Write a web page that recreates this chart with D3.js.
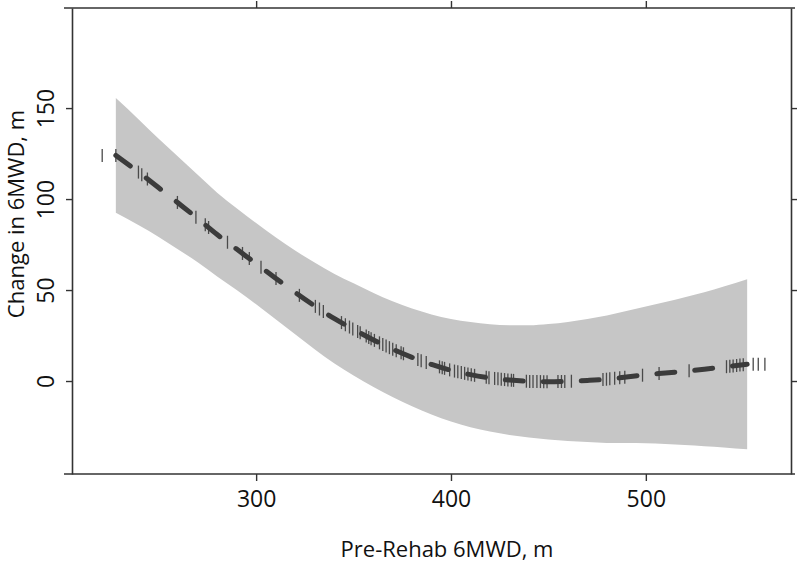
<!DOCTYPE html>
<html>
<head>
<meta charset="utf-8">
<script src="https://cdn.jsdelivr.net/npm/d3@7"></script>
<style>
  html, body { margin: 0; padding: 0; background: #fff; }
  svg { display: block; }
  text { font-family: "Open Sans", "Liberation Sans", sans-serif; fill: #111; }
</style>
</head>
<body>
<svg id="chart" width="800" height="563"></svg>
<script>
// ---- data ----
const fitX = [228, 240, 250, 260, 270, 280, 290, 300, 310, 320, 330, 340, 350, 360, 370, 380, 390, 400, 410, 420, 430, 440, 450, 460, 470, 480, 490, 500, 510, 520, 530, 540, 552];
const fitY = [124, 114.5, 106.2, 97.8, 89.3, 80.5, 72.5, 64.5, 56.5, 48.7, 41.3, 34.4, 28.4, 22.7, 17.5, 13, 9.1, 5.9, 3.5, 1.7, 0.5, -0.2, -0.4, -0.2, 0.3, 1, 2.2, 3.4, 4.4, 5.4, 6.5, 7.7, 9.2];
const ciLo = [92.5, 85.5, 79.2, 72.3, 65.3, 57.5, 50, 42.2, 34, 25.7, 17.5, 9.8, 3.1, -3.1, -8.8, -13.8, -18.4, -22.3, -25.4, -27.8, -29.6, -31, -32.1, -32.9, -33.5, -34, -34.1, -34.2, -34.6, -35.2, -35.8, -36.5, -37.5];
const ciHi = [155.5, 143.5, 133.2, 123.3, 113.3, 103.5, 95, 86.8, 79, 71.7, 65.1, 59, 53.7, 48.5, 43.8, 39.8, 36.6, 34.1, 32.4, 31.2, 30.6, 30.6, 31.3, 32.5, 34.1, 36, 38.5, 41, 43.4, 46, 48.8, 51.9, 55.9];
// observed pre-rehab 6MWD values (rug marks drawn on the fitted curve)
const rugX = [221, 228, 239.6, 241.3, 244.2, 259.6, 269.1, 273.9, 275.6, 285.3, 293, 296.5, 302.5, 310.2, 322.2, 330.4, 332.5, 334.5,
  343.8, 345.8, 347.9, 349.6, 352.1, 353.4, 356.5, 357.8, 359, 360.7, 363.3, 365, 366.7, 368.4, 370.1, 371.9, 374.4, 375.6,
  383, 384.7, 387.3, 394.1, 395.5, 396.7, 399.3, 401.8, 403.5, 405.3, 407, 408.7, 410.4, 412.1, 418.1, 419.5,
  422.4, 424.1, 425.8, 427.5, 429.2, 431, 432.1, 438.7, 440.4, 442.1, 444.1, 445.9, 447.6, 449.3, 454.9, 456.7, 458.4, 461.8,
  478, 479.8, 481.5, 484, 486.6, 489.2, 498.3, 506.8, 522.2, 541.4, 543.1, 544.8, 546.6, 548.3, 550, 555.1, 557.7, 561.1];
const xTicks = [300, 400, 500];
const yTicks = [0, 50, 100, 150];
const xLabel = "Pre-Rehab 6MWD, m";
const yLabel = "Change in 6MWD, m";

// ---- layout ----
const L = 72, R = 791, T = 8, B = 474;
const svg = d3.select("#chart");
const x = d3.scaleLinear().domain([205.5, 574.5]).range([L, R]);
const y = d3.scaleLinear().domain([-51.1, 205]).range([B, T]);

const fitPts = fitX.map((v, i) => ({x: v, y: fitY[i], lo: ciLo[i], hi: ciHi[i]}));

// confidence band
svg.append("path")
  .datum(fitPts)
  .attr("fill", "#c6c6c6")
  .attr("d", d3.area().x(d => x(d.x)).y0(d => y(d.lo)).y1(d => y(d.hi)).curve(d3.curveMonotoneX));

// rug marks placed on fitted curve
const fitAt = d3.scaleLinear().domain(fitX).range(fitY).clamp(true);
svg.append("g")
  .selectAll("line")
  .data(rugX)
  .join("line")
  .attr("x1", d => x(d)).attr("x2", d => x(d))
  .attr("y1", d => y(fitAt(d)) - 6.5).attr("y2", d => y(fitAt(d)) + 6.5)
  .attr("stroke", "#4a4a4a").attr("stroke-width", 1.3);

// fitted dashed line
svg.append("path")
  .datum(fitPts)
  .attr("fill", "none")
  .attr("stroke", "#3b3b3b")
  .attr("stroke-width", 5)
  .attr("stroke-linecap", "round")
  .attr("stroke-dasharray", "18,20")
  .attr("d", d3.line().x(d => x(d.x)).y(d => y(d.y)).curve(d3.curveMonotoneX));

// axes (box with outward ticks on all four sides)
const axisColor = "#333";
const gB = svg.append("g").attr("transform", `translate(0,${B})`)
  .call(d3.axisBottom(x).tickValues(xTicks).tickSize(7).tickPadding(10).tickSizeOuter(0));
const gT = svg.append("g").attr("transform", `translate(0,${T})`)
  .call(d3.axisTop(x).tickValues(xTicks).tickSize(7).tickFormat("").tickSizeOuter(0));
const gL = svg.append("g").attr("transform", `translate(${L},0)`)
  .call(d3.axisLeft(y).tickValues(yTicks).tickSize(6).tickPadding(10).tickSizeOuter(0));
const gR = svg.append("g").attr("transform", `translate(${R},0)`)
  .call(d3.axisRight(y).tickValues(yTicks).tickSize(6).tickFormat("").tickSizeOuter(0));
[gB, gT, gL, gR].forEach(g => {
  g.select(".domain").attr("stroke", axisColor).attr("stroke-width", 1.6);
  g.selectAll(".tick line").attr("stroke", axisColor).attr("stroke-width", 1.4);
});
// extend box lines slightly past corners like the reference
gB.select(".domain").attr("d", `M${L - 8},0H${R + 4}`);
gT.select(".domain").attr("d", `M${L - 8},0H${R + 4}`);

gB.selectAll(".tick text")
  .attr("font-size", 23).attr("font-family", "'Open Sans', sans-serif").attr("fill", "#111");
gL.selectAll(".tick text")
  .attr("font-size", 23).attr("font-family", "'Open Sans', sans-serif").attr("fill", "#111")
  .attr("text-anchor", "middle").attr("dy", 0)
  .attr("transform", function() { return "translate(-27,0) rotate(-90)"; })
  .attr("x", 0).attr("y", 0).attr("dominant-baseline", "central");

// titles
svg.append("text")
  .attr("x", 447).attr("y", 557)
  .attr("text-anchor", "middle")
  .attr("font-size", 22)
  .text(xLabel);
svg.append("text")
  .attr("transform", "translate(24,214) rotate(-90)")
  .attr("text-anchor", "middle")
  .attr("font-size", 22)
  .text(yLabel);
</script>
</body>
</html>
